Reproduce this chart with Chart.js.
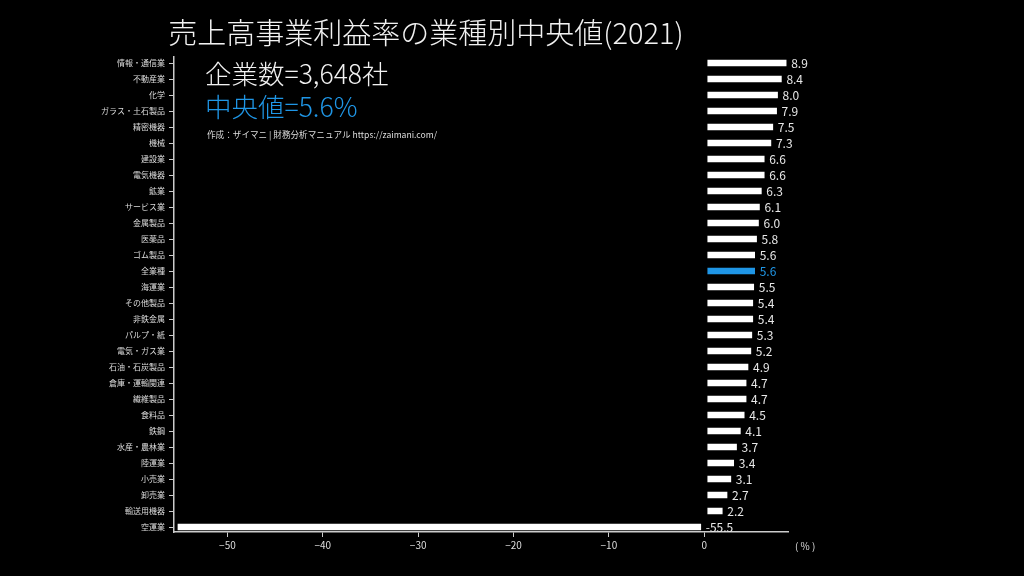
<!DOCTYPE html>
<html>
<head>
  <title>売上高事業利益率の業種別中央値(2021)</title>
  <script src="https://cdn.jsdelivr.net/npm/chart.js"></script>
  <style>
    body { margin: 0; background: #000; }
    #wrap { width: 1024px; height: 576px; position: relative; }
  </style>
</head>
<body>

<div id="wrap">
  <canvas id="chartRatio"></canvas>
</div>

<script>
const industries = [
  '情報・通信業', '不動産業', '化学', 'ガラス・土石製品', '精密機器', '機械',
  '建設業', '電気機器', '鉱業', 'サービス業', '金属製品', '医薬品', 'ゴム製品',
  '全業種', '海運業', 'その他製品', '非鉄金属', 'パルプ・紙', '電気・ガス業',
  '石油・石炭製品', '倉庫・運輸関連', '繊維製品', '食料品', '鉄鋼', '水産・農林業',
  '陸運業', '小売業', '卸売業', '輸送用機器', '空運業'
];
const ratios = [
  8.9, 8.4, 8.0, 7.9, 7.5, 7.3, 6.6, 6.6, 6.3, 6.1, 6.0, 5.8, 5.6,
  5.6, 5.5, 5.4, 5.4, 5.3, 5.2, 4.9, 4.7, 4.7, 4.5, 4.1, 3.7,
  3.4, 3.1, 2.7, 2.2, -55.5
];
const xTicks = [-50, -40, -30, -20, -10, 0];
const highlight = '全業種';

const BLUE = '#1f96e6';
const JP = '"Noto Sans CJK JP", "Noto Sans", sans-serif';

// 棒の右に数値を書く + タイトルなど
const labelPlugin = {
  id: 'labels',
  afterDatasetsDraw(chart) {
    const ctx = chart.ctx;
    const meta = chart.getDatasetMeta(0);
    ctx.save();
    ctx.font = '12px ' + JP;
    ctx.textBaseline = 'middle';
    ctx.textAlign = 'left';
    meta.data.forEach((bar, i) => {
      ctx.fillStyle = industries[i] === highlight ? BLUE : '#e8e8e8';
      const x = Math.max(bar.x, bar.base) + 2;
      ctx.fillText(ratios[i].toFixed(1), x, bar.y);
    });
    ctx.restore();
  },
  afterDraw(chart) {
    const ctx = chart.ctx;
    ctx.save();
    ctx.textBaseline = 'middle';
    ctx.textAlign = 'center';
    ctx.fillStyle = '#f2f2f2';
    ctx.font = '300 29px ' + JP;
    ctx.fillText('売上高事業利益率の業種別中央値(2021)', 426, 33);
    ctx.textAlign = 'left';
    ctx.font = '300 26.5px ' + JP;
    ctx.fillText('企業数=3,648社', 205, 74);
    ctx.fillStyle = BLUE;
    ctx.fillText('中央値=5.6%', 205, 107);
    ctx.fillStyle = '#dddddd';
    ctx.font = '8.6px ' + JP;
    ctx.fillText('作成：ザイマニ | 財務分析マニュアル https://zaimani.com/', 207, 135);
    ctx.font = '10px ' + JP;
    ctx.fillText('( % )', 795, 546);
    ctx.restore();
  }
};

new Chart(document.getElementById('chartRatio').getContext('2d'), {
  type: 'bar',
  data: {
    datasets: [{
      data: ratios.map((v, i) => ({ x: v, y: i })),
      backgroundColor: industries.map(n => n === highlight ? BLUE : '#ffffff'),
      borderColor: 'rgba(0,0,0,0)',   // 透明の枠で棒を少し細く見せる
      borderWidth: 3,
      borderSkipped: false,
      barThickness: 12,
      clip: false
    }]
  },
  options: {
    indexAxis: 'y',
    responsive: true,
    maintainAspectRatio: false,
    animation: false,
    layout: { padding: { top: 57, right: 236, bottom: 0, left: 0 } },
    plugins: { legend: { display: false }, tooltip: { enabled: false } },
    scales: {
      x: {
        type: 'linear',
        min: -55.6,
        max: 8.78,
        afterBuildTicks: s => { s.ticks = xTicks.map(v => ({ value: v })); },
        afterFit: s => { s.height = 44; },
        ticks: {
          color: '#dddddd',
          font: { size: 10, family: JP },
          padding: 2,
          maxRotation: 0,
          callback: v => String(v).replace('-', '\u2212')
        },
        grid: { drawOnChartArea: false, tickLength: 5, color: '#cccccc', lineWidth: 1 },
        border: { color: '#cccccc', width: 1.5 }
      },
      y: {
        type: 'linear',
        reverse: true,
        offset: false,
        min: -0.375,
        max: 29.31,
        afterBuildTicks: s => { s.ticks = industries.map((n, i) => ({ value: i })); },
        afterFit: s => { s.width = 174; },
        ticks: {
          color: '#dddddd',
          font: { size: 8, family: JP },
          padding: 4,
          autoSkip: false,
          callback: v => industries[v]
        },
        grid: { offset: false, drawOnChartArea: false, tickLength: 5, color: '#cccccc', lineWidth: 1 },
        border: { color: '#cccccc', width: 1.5 }
      }
    }
  },
  plugins: [labelPlugin]
});
</script>

</body>
</html>
